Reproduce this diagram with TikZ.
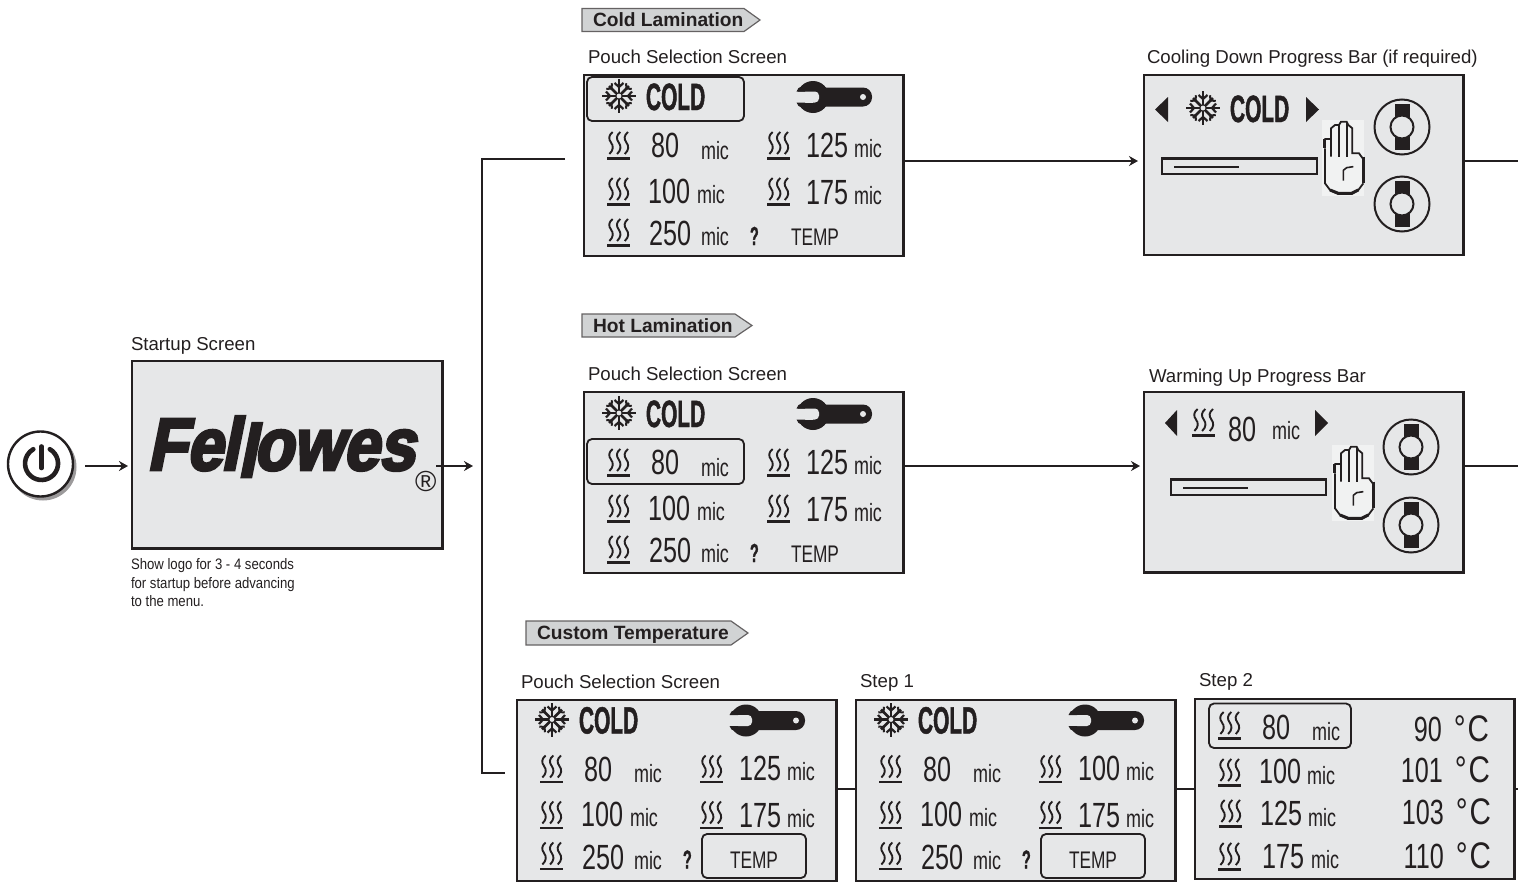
\documentclass[tikz,border=0pt]{standalone}
\usepackage{fontspec}
\usetikzlibrary{arrows.meta}
\setmainfont{Liberation Sans}
\newfontfamily\lcdfont[FakeStretch=.72]{Liberation Sans}
\newfontfamily\lcdbold[FakeStretch=.55,FakeBold=1.2]{Liberation Sans}
\newfontfamily\degfont[FakeStretch=.8]{Liberation Sans}
\newfontfamily\notefont[FakeStretch=.865]{Liberation Sans}
\newfontfamily\logofont[FakeSlant=.2,FakeBold=4,FakeStretch=.87]{Liberation Sans}
\definecolor{ink}{HTML}{231F20}
\definecolor{scr}{HTML}{E6E7E8}
\definecolor{tagfill}{HTML}{D1D3D4}
\definecolor{handbg}{HTML}{F1F2F2}
\newcounter{autoname}
\tikzset{
  txt/.style={inner sep=0pt,outer sep=0pt,anchor=base west,text=ink,/utils/exec={\stepcounter{autoname}},name=t\arabic{autoname}},
  screen/.style={draw=ink,fill=scr,line width=2.4pt,anchor=north west,inner sep=0pt,outer sep=0pt,xshift=.2pt,yshift=-.2pt,minimum width=#1},
  conn/.style={draw=ink,line width=1.9pt},
  arr/.style={conn,-{Stealth[length=9pt,width=10pt]}},
  hilite/.style={draw=ink,line width=1.8pt,rounded corners=5pt},
  tag/.style={draw=ink!70,fill=tagfill,line width=1.2pt},
  caption/.style={txt,font=\fontsize{18.65}{18.65}\selectfont},
  tagtext/.style={txt,font=\fontsize{19.2}{19.2}\selectfont\bfseries},
  numtext/.style={txt,font=\lcdfont\fontsize{35}{35}\selectfont},
  mictext/.style={txt,font=\lcdfont\fontsize{25}{25}\selectfont},
  coldtext/.style={txt,font=\lcdbold\bfseries\fontsize{38}{38}\selectfont},
  note/.style={txt,font=\notefont\fontsize{15.2}{15.2}\selectfont},
  tempt/.style={numtext,anchor=base east},
}
\newcommand{\degc}{\kern12pt{\degfont\fontsize{37}{37}\selectfont °\kern2pt C}}
% heat symbol: #1 left end of the underline, #2 its height
\newcommand{\heaticon}[2]{%
  \begin{scope}[shift={(#1,#2)},ink,line width=1.9pt]
    \foreach \c in {4,11.7,19.4}{
      \draw (\c+1.6,-27) .. controls (\c-2.6,-23.5) and (\c-2.6,-20) .. (\c,-16.5)
            .. controls (\c+2.6,-13) and (\c+2.6,-9) .. (\c-1.6,-5);
    }
    \draw[line width=2.4pt] (0,-0.5) -- (23,-0.5);
  \end{scope}}
% snowflake: #1,#2 centre
\newcommand{\snowicon}[2]{%
  \begin{scope}[shift={(#1,#2)},ink]
    \foreach \a in {0,90,180,270}{
      \begin{scope}[rotate=\a]
        \draw[line width=2.6pt] (0,0) -- (0,-17);
        \draw[line width=2.2pt] (-4.5,-13) -- (0,-9) -- (4.5,-13);
      \end{scope}
      \begin{scope}[rotate=\a+45]
        \draw[line width=2.6pt] (0,0) -- (0,-14);
        \draw[line width=2pt] (-4,-14) -- (0,-10.5) -- (4,-14);
      \end{scope}
    }
    \fill[scr] (0,0) circle[radius=2.4pt];
  \end{scope}}
% wrench: #1,#2 centre of the head
\newcommand{\wrenchicon}[2]{%
  \begin{scope}[shift={(#1,#2)}]
    \fill[ink] (0,0) circle[radius=16pt];
    \fill[ink,rounded corners=9pt] (0,-9.5) rectangle (59,9.5);
    \fill[scr,rounded corners=4pt] (-19,-5.5) rectangle (6,5.5);
    \fill[scr] (-19,-5.5) rectangle (0,5.5);
    \fill[ink] (-14.5,-9) -- (-16.5,-5.5) -- (-8,-5.5) -- (-8,-12) -- cycle;
    \fill[ink] (-14.5,9) -- (-16.5,5.5) -- (-8,5.5) -- (-8,12) -- cycle;
    \fill[scr] (50,0) circle[radius=3pt];
  \end{scope}}
% standing hand: #1,#2 top left of the reference crop
\newcommand{\handicon}[2]{%
  \begin{scope}[shift={(#1,#2)},x=.3333pt,y=-.3333pt]
    \fill[handbg] (22,15) rectangle (147,242);
    \draw[ink,line width=1.8pt] (28,72) -- (48,72) (48,125) -- (48,40) -- (60,30) -- (72,30) -- (78,20) -- (95,20) -- (100,30) -- (112,40) -- (112,115) -- (132,115) -- (143,130);
    \draw[ink,line width=1.8pt] (73,30) -- (73,125) (95,25) -- (95,125);
    \draw[ink,line width=1.8pt] (30,100) -- (30,205) -- (45,225) -- (70,237) -- (110,237) -- (130,225) -- (145,205);
    \draw[ink,line width=3pt] (145,125) -- (145,205);
    \draw[ink,line width=3pt] (28,72) -- (28,100);
    \draw[ink,line width=3pt] (45,225) -- (70,235) -- (110,235) -- (130,225);
    \draw[ink,line width=1.6pt] (85,197) -- (85,166) -- (95,158) -- (115,155);
  \end{scope}}
% stop button: #1,#2 centre, #3 a name
\newcommand{\stopicon}[3]{%
  \node[draw=ink,line width=2pt,circle,minimum size=55pt,inner sep=0pt] (#3) at (#1,#2) {};
  \fill[ink] (#1-7.5,#2-23) rectangle (#1+7.5,#2+23);
  \node[draw=ink,fill=scr,line width=2pt,circle,minimum size=23pt,inner sep=0pt] (#3c) at (#1,#2) {};}
% pouch selection screen: #1,#2 top left, #3 name, #4 number in the right column
\newcommand{\pouchdy}{0}
\newcommand{\tempx}{207}
\newcommand{\pouchscreen}[4]{%
  \node[screen=319.4pt,minimum height=180.6pt] (#3) at (#1,#2) {};
  \begin{scope}[shift={(#1,#2-\pouchdy)}]
    \snowicon{35}{21}
    \node[coldtext] at (62,35) {COLD};
    \wrenchicon{229}{22}
    \heaticon{23}{84}  \heaticon{183}{84}
    \heaticon{23}{130} \heaticon{183}{130}
    \heaticon{23}{171}
    \node[numtext] at (67,82.5) {80};
    \node[mictext] at (117,84) {mic};
    \node[numtext] at (222,82) {#4};
    \node[mictext] at (270,82) {mic};
    \node[numtext] at (64,128) {100};
    \node[mictext] at (113,128) {mic};
    \node[numtext] at (222,129) {175};
    \node[mictext] at (270,129) {mic};
    \node[numtext] at (65,170.5) {250};
    \node[mictext] at (117,170.5) {mic};
    \node[txt,font=\lcdbold\bfseries\fontsize{26}{26}\selectfont] at (166,170) {?};
    \node[txt,font=\lcdfont\fontsize{24}{24}\selectfont] at (\tempx,170) {TEMP};
  \end{scope}}
\begin{document}
\begin{tikzpicture}[x=1pt,y=-1pt]
\useasboundingbox (0,0) rectangle (1518,886);

% power button
\fill[ink!45] (43,467) circle[radius=33.5pt];
\node[draw=ink,fill=white,line width=2.4pt,circle,minimum size=65pt,inner sep=0pt] (power) at (40.5,464) {};
\draw[ink,line width=4.6pt,line cap=round] (49.8,449.2) arc[start angle=60,end angle=-240,radius=16.5pt];
\draw[ink,line width=4.6pt,line cap=round] (41.5,446.5) -- (41.5,468);
\coordinate (powerout) at (85,466);
\coordinate (startin) at (128,466);

% startup screen
\node[caption] at (131,350) {Startup Screen};
\node[screen=310.4pt,minimum height=187.4pt] (start) at (132,360.7) {};
\node[txt,font=\logofont\bfseries\fontsize{74}{74}\selectfont] (logo) at (147,470) {Fe\kern-1.5pt l\kern-1pt\raisebox{-7pt}{l}\kern-2pt owes};
\node[txt,font=\fontsize{29}{29}\selectfont] (reg) at (415,491.5) {®};
\node[note] at (131,569) {Show logo for 3 - 4 seconds};
\node[note] at (131,588) {for startup before advancing};
\node[note] at (131,606) {to the menu.};
\draw[arr] (powerout) -- (startin);
\coordinate (startout) at (436,466);
\coordinate (branchin) at (473,466);
\draw[arr] (startout) -- (branchin);

% cold lamination
\draw[tag] (582,8.5) -- (744,8.5) -- (760,20) -- (744,31.5) -- (582,31.5) -- cycle;
\node[tagtext] at (593,26) {Cold Lamination};
\node[caption] at (588,63) {Pouch Selection Screen};
\pouchscreen{584}{75}{coldpouch}{125}
\draw[hilite] (587,77) rectangle (744,121);

\node[caption] at (1147,63) {Cooling Down Progress Bar (if required)};
\node[screen=319.4pt,minimum height=180.3pt] (coldbar) at (1144,74.5) {};
\fill[ink] (1155,109.5) -- (1168,97) -- (1168,122) -- cycle;
\snowicon{1203}{108}
\node[coldtext] at (1230,122) {COLD};
\fill[ink] (1319,109.5) -- (1306,97) -- (1306,122) -- cycle;
\draw[ink,line width=2.2pt] (1162,158.5) rectangle (1317,174);
\draw[ink,line width=2pt] (1174,166.5) -- (1239,166.5);
\handicon{1315}{115}
\stopicon{1402}{127}{stopa}
\stopicon{1402}{204}{stopb}

% hot lamination
\draw[tag] (582,314) -- (735,314) -- (752,325.5) -- (735,337) -- (582,337) -- cycle;
\node[tagtext] at (593,332) {Hot Lamination};
\node[caption] at (588,380) {Pouch Selection Screen};
\pouchscreen{584}{392}{hotpouch}{125}
\draw[hilite] (587,439) rectangle (744,484);

\node[caption] at (1149,382) {Warming Up Progress Bar};
\node[screen=319.4pt,minimum height=180.3pt] (hotbar) at (1144,392) {};
\fill[ink] (1165,423) -- (1177,410) -- (1177,436) -- cycle;
\heaticon{1192}{436}
\node[numtext] at (1228,441) {80};
\node[mictext] at (1272,439) {mic};
\fill[ink] (1328,423) -- (1315,410) -- (1315,436) -- cycle;
\draw[ink,line width=2.2pt] (1171,479.5) rectangle (1326,495);
\draw[ink,line width=2pt] (1183,487.5) -- (1248,487.5);
\handicon{1325}{440}
\stopicon{1411}{447}{stopc}
\stopicon{1411}{525}{stopd}

% custom temperature
\renewcommand{\pouchdy}{1.5}
\renewcommand{\tempx}{213}
\draw[tag] (526,621) -- (731,621) -- (748,633) -- (731,645) -- (526,645) -- cycle;
\node[tagtext] at (537,639) {Custom Temperature};
\node[caption] at (521,688) {Pouch Selection Screen};
\pouchscreen{517}{700}{custpouch}{125}
\draw[hilite] (702,834) rectangle (806,878);
\node[caption] at (860,687) {Step 1};
\pouchscreen{856}{700}{stepone}{100}
\draw[hilite] (1041,834) rectangle (1145,878);

\node[caption] at (1199,686) {Step 2};
\node[screen=319.4pt,minimum height=180pt] (steptwo) at (1194.8,698.5) {};
\draw[hilite] (1209,703.5) rectangle (1351,748);
\heaticon{1218}{739}
\heaticon{1218}{786}
\heaticon{1219}{827}
\heaticon{1218}{870}
\node[numtext] at (1262,739) {80};
\node[mictext] at (1312,740) {mic};
\node[numtext] at (1259,783) {100};
\node[mictext] at (1307,784) {mic};
\node[numtext] at (1260,825) {125};
\node[mictext] at (1308,826) {mic};
\node[numtext] at (1262,868) {175};
\node[mictext] at (1311,868) {mic};
\node[tempt] at (1489,741) {90\degc};
\node[tempt] at (1490,782) {101\degc};
\node[tempt] at (1491,824) {103\degc};
\node[tempt] at (1491,868) {110\degc};

% connectors
\coordinate (bustop) at (482,159);
\coordinate (busend) at (565,159);
\coordinate (buslow) at (482,773);
\coordinate (busin) at (505,773);
\draw[conn] (busend) -- (bustop) -- (buslow) -- (busin);
\draw[arr] (904,161) -- (1138,161);
\draw[arr] (904,466) -- (1140,466);
\coordinate (edgea) at (1518,161);
\coordinate (edgeb) at (1518,466);
\coordinate (edgec) at (1518,789);
\draw[conn] (coldbar.east |- edgea) -- (edgea);
\draw[conn] (hotbar.east |- edgeb) -- (edgeb);
\draw[conn] (custpouch.east |- edgec) -- (stepone.west |- edgec);
\draw[conn] (stepone.east |- edgec) -- (steptwo.west |- edgec);
\draw[conn] (steptwo.east |- edgec) -- (edgec);
\end{tikzpicture}
\end{document}
